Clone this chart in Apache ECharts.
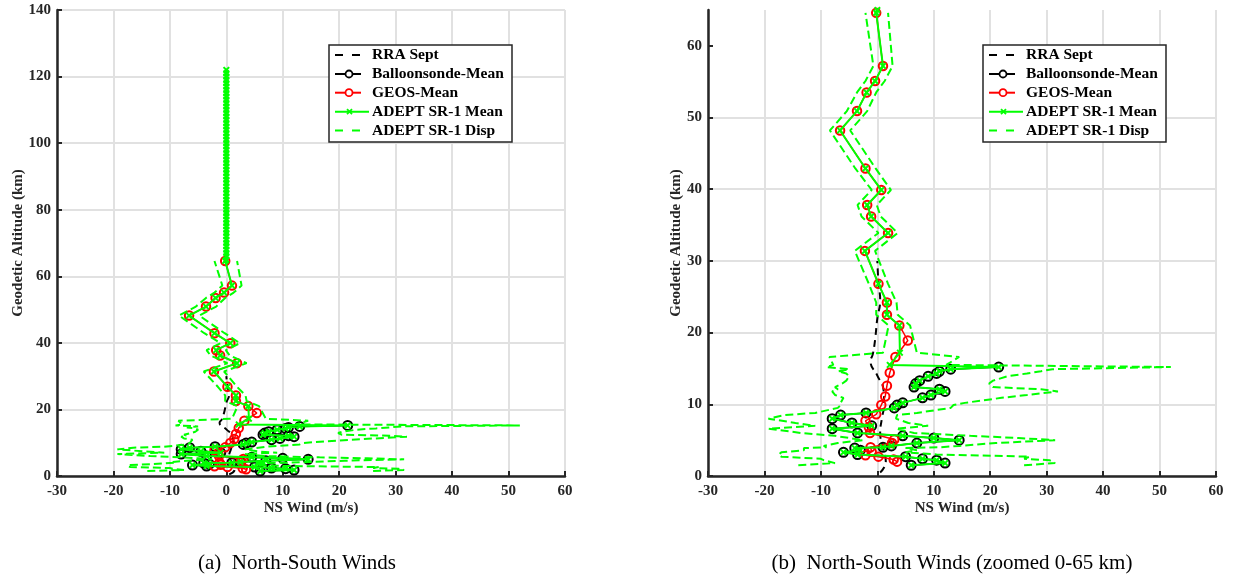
<!DOCTYPE html>
<html><head><meta charset="utf-8">
<script src="https://cdn.jsdelivr.net/npm/echarts@6/dist/echarts.min.js"></script>
<style>html,body{margin:0;padding:0;background:#fff}#c{width:1236px;height:579px}</style>
</head><body><div id="c"></div>
<script>
// ---------- tick labels ----------
const windTicks = [-30, -20, -10, 0, 10, 20, 30, 40, 50, 60];
const altTicksFull = [0, 20, 40, 60, 80, 100, 120, 140];
const altTicksZoom = [0, 10, 20, 30, 40, 50, 60];
const legendNames = ['RRA Sept', 'Balloonsonde-Mean', 'GEOS-Mean', 'ADEPT SR-1 Mean', 'ADEPT SR-1 Disp'];
const captions = ['(a)  North-South Winds', '(b)  North-South Winds (zoomed 0-65 km)'];

// ---------- RRA Sept ----------
const rraAlt  = [0.5, 2, 4, 6, 8, 10, 12, 14, 16, 17, 19, 22, 24.5, 27, 30];
const rraWind = [0.5, 1.5, 1.0, 0.5, 0.8, 1.2, 1.1, 0.0, -1.2, -0.8, -0.4, 0.0, 0.5, 0.2, 0.0];

// ---------- Balloonsonde mean ----------
const balloonAlt  = [1.5, 1.8, 2.2, 2.4, 2.7, 3.0, 3.3, 3.6, 3.9, 4.0, 4.2, 4.6, 5.0, 5.3, 5.6, 6.0, 6.6, 7.0, 7.4, 8.0, 8.5, 8.8, 9.5, 9.9, 10.2, 10.9, 11.3, 11.8, 12.1, 12.4, 12.9, 13.3, 13.9, 14.3, 14.6, 14.9, 15.2];
const balloonWind = [6.0, 12.0, 10.5, 8.0, 5.0, -3.5, -6.0, -3.0, -4.0, 1.0, 2.5, 7.0, 14.5, 10.0, 4.5, -3.5, -8.0, -1.0, -4.5, -8.0, -6.5, -2.0, 3.0, 3.5, 4.5, 8.0, 9.5, 12.0, 11.0, 6.5, 6.8, 7.5, 9.0, 10.5, 11.0, 13.0, 21.5];

// ---------- GEOS mean ----------
const geosAlt  = [2.0, 2.3, 2.7, 2.9, 3.4, 4.0, 4.6, 5.1, 6.0, 6.8, 7.7, 8.6, 9.9, 11.1, 12.6, 14.4, 16.6, 18.9, 21.0, 22.5, 24.2, 26.8, 31.4, 33.9, 36.2, 37.8, 39.9, 42.9, 48.2, 50.9, 53.5, 55.1, 57.2, 64.6];
const geosWind = [3.5, 2.9, 0.2, -2.1, -1.0, -1.2, 2.6, 3.0, -1.3, -1.5, -2.1, -0.2, 0.7, 1.4, 1.7, 2.2, 3.2, 5.4, 3.9, 1.7, 1.7, 0.2, -2.2, 1.9, -1.1, -1.8, 0.7, -2.1, -6.6, -3.6, -1.9, -0.4, 1.0, -0.2];

// ---------- ADEPT SR-1 mean ----------
const adeptAlt = [1.5, 1.8, 2.2, 2.4, 2.7, 3.0, 3.3, 3.6, 3.9, 4.0, 4.2, 4.6, 5.0, 5.3, 5.6, 6.0, 6.6, 7.0, 7.4, 8.0, 8.5, 8.8, 9.5, 9.9, 10.2, 10.9, 11.3, 11.8, 12.1, 12.4, 12.9, 13.3, 13.9, 14.3, 14.6, 14.9, 15.2,
  15.5, 17.2, 21.0, 22.5, 24.2, 26.8, 31.4, 33.9, 36.2, 37.8, 39.9, 42.9, 48.2, 50.9, 53.5, 55.1, 57.2, 64.6,
  65, 66, 67, 68, 69, 70, 71, 72, 73, 74, 75, 76, 77, 78, 79, 80, 81, 82, 83, 84, 85, 86, 87, 88, 89, 90, 91, 92, 93, 94, 95, 96, 97, 98, 99, 100, 101, 102, 103, 104, 105, 106, 107, 108, 109, 110, 111, 112, 113, 114, 115, 116, 117, 118, 119, 120, 121, 122];
const adeptWind = [6.0, 12.0, 10.5, 8.0, 5.0, -3.5, -6.0, -3.0, -4.0, 1.0, 2.5, 7.0, 14.5, 10.0, 4.5, -3.5, -8.0, -1.0, -4.5, -8.0, -6.5, -2.0, 3.0, 3.5, 4.5, 8.0, 9.5, 12.0, 11.0, 6.5, 6.8, 7.5, 9.0, 10.5, 11.0, 13.0, 21.5,
  2.2, 4.0, 3.9, 1.7, 1.7, 0.2, -2.2, 1.9, -1.1, -1.8, 0.7, -2.1, -6.6, -3.6, -1.9, -0.4, 1.0, -0.2,
  0, 0, 0, 0, 0, 0, 0, 0, 0, 0, 0, 0, 0, 0, 0, 0, 0, 0, 0, 0, 0, 0, 0, 0, 0, 0, 0, 0, 0, 0, 0, 0, 0, 0, 0, 0, 0, 0, 0, 0, 0, 0, 0, 0, 0, 0, 0, 0, 0, 0, 0, 0, 0, 0, 0, 0, 0, 0];

// ---------- ADEPT SR-1 dispersion bounds ----------
const dispAlt = [1.5, 1.8, 2.2, 2.4, 2.7, 3.0, 3.3, 3.6, 3.9, 4.0, 4.2, 4.6, 5.0, 5.3, 5.6, 6.0, 6.6, 7.0, 7.4, 8.0, 8.5, 8.8, 9.5, 9.9, 10.2, 10.9, 11.3, 11.8, 12.1, 12.4, 12.9, 13.3, 13.9, 14.3, 14.6, 14.9, 15.2,
  15.5, 16.6, 17.2, 21.0, 22.5, 24.2, 26.8, 31.4, 33.9, 36.2, 37.8, 39.9, 42.9, 48.2, 50.9, 53.5, 55.1, 57.2, 64.6];
const dispLow = [-14.0, -7.5, -9.5, -10.0, -17.0, -17.5, -17.0, -13.0, -13.0, -9.0, -9.5, -7.0, -2.5, -5.0, -7.5, -13.5, -19.3, -11.0, -14.5, -19.3, -16.5, -11.0, -7.0, -6.5, -6.5, -6.0, -7.5, -8.0, -7.0, -7.5, -6.2, -5.5, -5.0, -5.5, -7.0, -5.0, -9.0,
  -7.8, -8.5, 1.0, 2.0, -0.2, -0.2, -1.5, -4.0, 0.2, -2.8, -3.5, -1.0, -3.9, -8.4, -5.4, -3.6, -2.1, -0.7, -2.1];
const dispHigh = [26.0, 31.5, 30.5, 26.0, 27.0, 10.5, 5.0, 7.0, 5.0, 11.0, 14.5, 21.0, 31.5, 25.0, 16.5, 6.5, 3.3, 9.0, 5.5, 3.3, 3.5, 7.0, 13.0, 13.5, 15.5, 22.0, 26.5, 32.0, 29.0, 20.5, 19.8, 20.5, 23.0, 26.5, 29.0, 31.0, 52.0,
  12.2, 14.5, 7.0, 5.8, 3.6, 3.4, 1.9, -0.4, 3.6, 0.6, -0.1, 2.4, -0.3, -4.8, -1.8, -0.2, 1.3, 2.7, 1.9];

const FONT = '"Liberation Serif", "Times New Roman", serif';
const AXC = '#262626';
const GREEN = '#00ff00', RED = '#ff0000', BLACK = '#000000';
const xMark = 'path://M0,2L2,0L5,3L8,0L10,2L7,5L10,8L8,10L5,7L2,10L0,8L3,5Z';
const CLEAR = 'rgba(255,255,255,0)';

function pairs(w, a) { return w.map((v, i) => [v, a[i]]); }

function seriesFor(ix) {
  return [
    { name: legendNames[0], type: 'line', xAxisIndex: ix, yAxisIndex: ix, data: pairs(rraWind, rraAlt),
      symbol: 'none', smooth: true, lineStyle: { color: BLACK, width: 2, type: [7, 5] }, itemStyle: { color: BLACK }, z: 2 },
    { name: legendNames[1], type: 'line', xAxisIndex: ix, yAxisIndex: ix, data: pairs(balloonWind, balloonAlt),
      symbol: 'circle', symbolSize: 9, lineStyle: { color: BLACK, width: 1.5 },
      itemStyle: { color: CLEAR, borderColor: BLACK, borderWidth: 2 }, z: 3 },
    { name: legendNames[2], type: 'line', xAxisIndex: ix, yAxisIndex: ix, data: pairs(geosWind, geosAlt),
      symbol: 'circle', symbolSize: 8.5, lineStyle: { color: RED, width: 1.5 },
      itemStyle: { color: CLEAR, borderColor: RED, borderWidth: 2 }, z: 4 },
    { name: legendNames[3], type: 'line', xAxisIndex: ix, yAxisIndex: ix, data: pairs(adeptWind, adeptAlt),
      symbol: xMark, symbolSize: 7, lineStyle: { color: GREEN, width: 2 },
      itemStyle: { color: GREEN }, z: 5 },
    { name: legendNames[4], type: 'line', xAxisIndex: ix, yAxisIndex: ix, data: pairs(dispLow, dispAlt),
      symbol: 'none', lineStyle: { color: GREEN, width: 2, type: [8, 4] }, itemStyle: { color: GREEN }, z: 6 },
    { name: legendNames[4], type: 'line', xAxisIndex: ix, yAxisIndex: ix, data: pairs(dispHigh, dispAlt),
      symbol: 'none', lineStyle: { color: GREEN, width: 2, type: [8, 4] }, itemStyle: { color: GREEN }, z: 6 }
  ];
}

function xAxisFor(ix) {
  return {
    type: 'value', gridIndex: ix, min: -30, max: 60, interval: 10,
    name: 'NS Wind (m/s)', nameLocation: 'middle', nameGap: 25, nameMoveOverlap: false,
    nameTextStyle: { fontFamily: FONT, fontWeight: 'bold', fontSize: 15, color: AXC },
    axisLine: { show: true, onZero: false, lineStyle: { color: AXC, width: 2.5 } },
    axisTick: { show: true, inside: true, length: 5, lineStyle: { color: AXC, width: 2 } },
    axisLabel: { fontFamily: FONT, fontWeight: 'bold', fontSize: 15, color: AXC, margin: 8,
      customValues: windTicks },
    splitLine: { show: true, lineStyle: { color: '#e1e1e1', width: 2 } }
  };
}
function yAxisFor(ix, max, interval, ticks, gap) {
  return {
    type: 'value', gridIndex: ix, min: 0, max: max, interval: interval,
    name: 'Geodetic Altitude (km)', nameLocation: 'middle', nameGap: gap, nameRotate: 90, nameMoveOverlap: false,
    nameTextStyle: { fontFamily: FONT, fontWeight: 'bold', fontSize: 15, color: AXC },
    axisLine: { show: true, onZero: false, lineStyle: { color: AXC, width: 2.5 } },
    axisTick: { show: true, inside: true, length: 5, lineStyle: { color: AXC, width: 2 }, customValues: ticks },
    axisLabel: { fontFamily: FONT, fontWeight: 'bold', fontSize: 15, color: AXC, margin: 6, customValues: ticks },
    splitLine: { show: true, showMaxLine: max === ticks[ticks.length - 1], lineStyle: { color: '#e1e1e1', width: 2 } }
  };
}

// Legend drawn as graphic (MATLAB-like icons); box position per panel
function legendGraphic(ox) {
  const rows = [55, 74, 92.7, 111.7, 130.5];
  const els = [];
  const Z = 100;
  els.push({ type: 'rect', z: Z, shape: { x: 329 + ox, y: 45, width: 183, height: 97 },
    style: { fill: '#ffffff', stroke: AXC, lineWidth: 1.5 } });
  const seg = (x1, x2, y, c, w) => els.push({ type: 'line', z: Z + 1, shape: { x1: x1 + ox, y1: y, x2: x2 + ox, y2: y }, style: { stroke: c, lineWidth: w || 2 } });
  const dash = (y, c) => { seg(335, 343, y, c); seg(352, 360, y, c); };
  const circ = (y, c) => {
    seg(335, 361, y, c);
    els.push({ type: 'circle', z: Z + 2, shape: { cx: 349 + ox, cy: y, r: 3.5 }, style: { fill: '#ffffff', stroke: c, lineWidth: 1.8 } });
  };
  dash(rows[0], BLACK);
  circ(rows[1], BLACK);
  circ(rows[2], RED);
  seg(335, 369, rows[3], GREEN);
  els.push({ type: 'line', z: Z + 2, shape: { x1: 347 + ox, y1: rows[3] - 2.5, x2: 352 + ox, y2: rows[3] + 2.5 }, style: { stroke: GREEN, lineWidth: 1.8 } });
  els.push({ type: 'line', z: Z + 2, shape: { x1: 347 + ox, y1: rows[3] + 2.5, x2: 352 + ox, y2: rows[3] - 2.5 }, style: { stroke: GREEN, lineWidth: 1.8 } });
  dash(rows[4], GREEN);
  legendNames.forEach((n, i) => {
    els.push({ type: 'text', z: Z + 2, x: 372 + ox, y: rows[i],
      style: { text: n, align: 'left', verticalAlign: 'middle', fontFamily: 'Liberation Serif', fontWeight: 'bold', fontSize: 15.5, fill: '#000000' } });
  });
  return els;
}

const chart = echarts.init(document.getElementById('c'), null, { renderer: 'canvas' });
chart.setOption({
  animation: false,
  backgroundColor: '#fff',
  grid: [
    { left: 57, top: 10, width: 508, height: 466 },
    { left: 708, top: 10, width: 508, height: 466 }
  ],
  xAxis: [xAxisFor(0), xAxisFor(1)],
  yAxis: [yAxisFor(0, 140, 20, altTicksFull, 31), yAxisFor(1, 65, 10, altTicksZoom, 24)],
  series: seriesFor(0).concat(seriesFor(1)),
  graphic: legendGraphic(0).concat(legendGraphic(654)).concat([
    { type: 'text', x: 297, y: 563, z: 100, style: { text: captions[0], align: 'center', verticalAlign: 'middle', fontFamily: 'Liberation Serif', fontSize: 21, fill: '#000000' } },
    { type: 'text', x: 952, y: 563, z: 100, style: { text: captions[1], align: 'center', verticalAlign: 'middle', fontFamily: 'Liberation Serif', fontSize: 21, fill: '#000000' } }
  ])
});
</script>
</body></html>
